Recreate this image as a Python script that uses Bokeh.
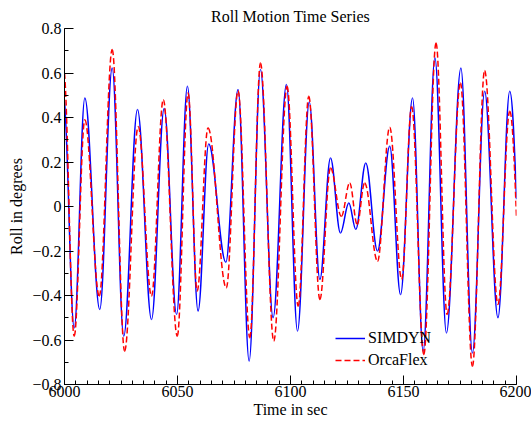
from bokeh.plotting import figure
from bokeh.models import (Range1d, FixedTicker, Legend, LegendItem,
                          ColumnDataSource)
from bokeh.embed import file_html
from bokeh.resources import INLINE

title_text = "Roll Motion Time Series"
x_label = "Time in sec"
y_label = "Roll in degrees"
series_names = ["SIMDYN", "OrcaFlex"]

x_ticks = [6000, 6050, 6100, 6150, 6200]
x_tick_labels = ["6000", "6050", "6100", "6150", "6200"]
y_ticks = [-0.8, -0.6, -0.4, -0.2, 0.0, 0.2, 0.4, 0.6, 0.8]
y_tick_labels = ["\u22120.8", "\u22120.6", "\u22120.4", "\u22120.2", "0",
                 "0.2", "0.4", "0.6", "0.8"]

# turning points (peaks / troughs), plus first/last sample
simdyn_t = [6000.0, 6004.3, 6009.0, 6015.6, 6021.1, 6026.2, 6032.3, 6038.5,
            6044.1, 6049.6, 6054.4, 6059.1, 6063.8, 6071.4, 6076.8, 6081.7,
            6086.7, 6092.3, 6098.2, 6103.1, 6108.3, 6113.0, 6117.7, 6122.1,
            6125.8, 6128.9, 6133.3, 6138.5, 6143.9, 6148.7, 6154.0, 6158.7,
            6163.9, 6169.0, 6175.4, 6180.5, 6185.9, 6191.8, 6197.0, 6200.0]
simdyn_v = [0.47, -0.546, 0.488, -0.463, 0.623, -0.583, 0.436, -0.508,
            0.44, -0.485, 0.54, -0.47, 0.281, -0.25, 0.526, -0.695,
            0.616, -0.50, 0.548, -0.56, 0.47, -0.328, 0.218, -0.119,
            0.016, -0.103, 0.196, -0.20, 0.271, -0.396, 0.488, -0.65,
            0.668, -0.568, 0.623, -0.658, 0.518, -0.50, 0.518, 0.033]

orcaflex_t = [6000.0, 6004.3, 6009.0, 6015.4, 6021.1, 6026.6, 6032.6, 6038.5,
              6043.7, 6049.9, 6054.7, 6058.7, 6063.5, 6071.6, 6076.8, 6082.0,
              6086.7, 6092.6, 6098.5, 6103.4, 6108.1, 6113.0, 6117.7, 6122.5,
              6126.2, 6129.5, 6132.8, 6138.5, 6143.9, 6149.2, 6153.6, 6159.0,
              6164.4, 6169.3, 6175.2, 6180.5, 6185.9, 6191.8, 6197.0, 6200.0]
orcaflex_v = [0.60, -0.583, 0.39, -0.403, 0.706, -0.65, 0.36, -0.403,
              0.48, -0.583, 0.51, -0.38, 0.353, -0.366, 0.52, -0.59,
              0.645, -0.605, 0.54, -0.448, 0.496, -0.418, 0.173, -0.044,
              0.106, -0.081, 0.106, -0.246, 0.356, -0.328, 0.45, -0.665,
              0.735, -0.485, 0.556, -0.718, 0.611, -0.44, 0.428, -0.05]


def smooth_segments(t, v, k=0.364):
    """Cubic Bezier pieces through the turning points (horizontal tangents)."""
    d = {n: [] for n in ("x0", "y0", "x1", "y1", "cx0", "cy0", "cx1", "cy1")}
    n = len(t)
    for i in range(n - 1):
        ta, va, tb, vb = t[i], v[i], t[i + 1], v[i + 1]
        dt = tb - ta
        cy0 = va if i > 0 else va + 0.15 * (vb - va)
        cy1 = vb if i < n - 2 else vb + 0.6 * (va - vb)
        d["x0"].append(ta); d["y0"].append(va)
        d["x1"].append(tb); d["y1"].append(vb)
        d["cx0"].append(ta + k * dt); d["cy0"].append(cy0)
        d["cx1"].append(tb - k * dt); d["cy1"].append(cy1)
    return ColumnDataSource(d)


FONT = "Liberation Serif"

p = figure(width=531, height=423, output_backend="svg", toolbar_location=None,
           x_range=Range1d(6000, 6200), y_range=Range1d(-0.8, 0.8),
           min_border_left=64, min_border_right=15, min_border_top=28,
           min_border_bottom=39, title=title_text)
p.background_fill_color = "white"
p.border_fill_color = "white"
p.outline_line_color = None
p.xgrid.visible = False
p.ygrid.visible = False

p.title.align = "center"
p.title.text_font = FONT
p.title.text_font_size = "16px"
p.title.text_font_style = "normal"
p.title.text_color = "black"
p.title.standoff = 8

p.xaxis.ticker = FixedTicker(ticks=x_ticks, minor_ticks=list(range(6000, 6201, 5)))
p.yaxis.ticker = FixedTicker(ticks=y_ticks,
                             minor_ticks=[i / 10 for i in range(-8, 9)])
p.xaxis.major_label_overrides = dict(zip(x_ticks, x_tick_labels))
p.yaxis.major_label_overrides = dict(zip(y_ticks, y_tick_labels))

for ax in (p.xaxis[0], p.yaxis[0]):
    ax.major_tick_in = 9
    ax.major_tick_out = 0
    ax.minor_tick_in = 4
    ax.minor_tick_out = 0
    ax.axis_line_color = "black"
    ax.major_tick_line_color = "black"
    ax.minor_tick_line_color = "black"
    ax.major_label_text_font = FONT
    ax.major_label_text_font_size = "16px"
    ax.major_label_text_color = "black"
    ax.axis_label_text_font = FONT
    ax.axis_label_text_font_size = "16px"
    ax.axis_label_text_font_style = "normal"
    ax.axis_label_text_color = "black"
p.xaxis.major_label_standoff = 1
p.xaxis.axis_label = x_label
p.xaxis.axis_label_standoff = 1
p.yaxis.major_label_standoff = 3
p.yaxis.axis_label = y_label
p.yaxis.axis_label_standoff = 4

BLUE = "#0000ff"
RED = "#ff0000"
r_b = p.bezier(x0="x0", y0="y0", x1="x1", y1="y1", cx0="cx0", cy0="cy0",
               cx1="cx1", cy1="cy1", source=smooth_segments(simdyn_t, simdyn_v),
               line_color=BLUE, line_width=1.5)
r_r = p.bezier(x0="x0", y0="y0", x1="x1", y1="y1", cx0="cx0", cy0="cy0",
               cx1="cx1", cy1="cy1", source=smooth_segments(orcaflex_t, orcaflex_v),
               line_color=RED, line_width=1.5, line_dash="6 3")

legend = Legend(items=[LegendItem(label=series_names[0], renderers=[r_b], index=0),
                       LegendItem(label=series_names[1], renderers=[r_r], index=0)],
                location=(271, 13), padding=0, margin=0, spacing=0,
                glyph_width=30, glyph_height=22, label_height=22,
                label_standoff=3, label_text_font=FONT,
                label_text_font_size="16px", label_text_color="black",
                background_fill_alpha=0, border_line_alpha=0)
p.add_layout(legend)

open("out.html", "w").write(file_html(p, INLINE))
